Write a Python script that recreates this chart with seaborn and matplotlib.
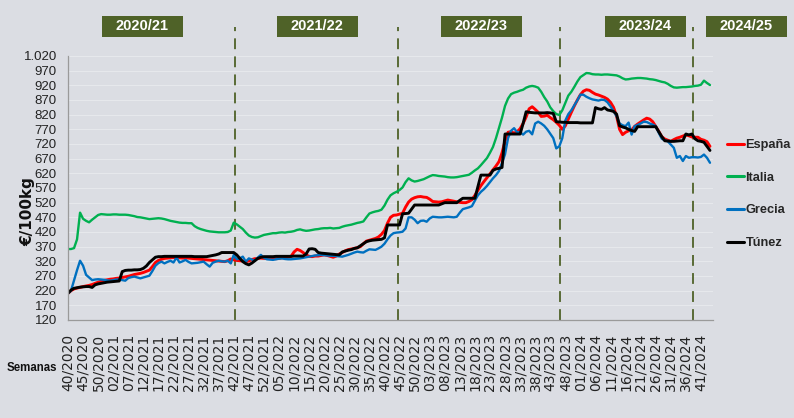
import numpy as np
import pandas as pd
import matplotlib
matplotlib.use("Agg")
import matplotlib.pyplot as plt
from matplotlib import font_manager
from matplotlib.lines import Line2D
from matplotlib.patches import Rectangle
import seaborn as sns

# ---------------- data ----------------
countries = ["España", "Italia", "Grecia", "Túnez"]

espana = [
    211, 220, 226, 229, 231, 234, 236, 238, 241, 245,
    249, 252, 255, 257, 259, 260, 262, 263, 265, 267,
    269, 272, 275, 277, 279, 282, 286, 290, 302, 316,
    323, 327, 330, 331, 332, 333, 332, 332, 331, 332,
    331, 330, 329, 328, 327, 326, 325, 324, 323, 322,
    321, 320, 319, 322, 328, 325, 323, 322, 321, 319,
    321, 326, 329, 330, 331, 330, 330, 331, 330, 329,
    330, 332, 333, 334, 337, 352, 361, 357, 350, 342,
    337, 336, 338, 338, 340, 342, 340, 337, 334, 338,
    345, 350, 356, 360, 362, 364, 367, 370, 380, 389,
    392, 395, 398, 403, 412, 425, 450, 470, 477, 478,
    481, 484, 505, 522, 532, 537, 540, 541, 539, 538,
    532, 524, 523, 522, 523, 526, 529, 527, 525, 523,
    521, 520, 520, 524, 530, 545, 562, 578, 592, 605,
    618, 632, 645, 660, 690, 730, 760, 762, 757, 762,
    772, 790, 812, 840, 847, 838, 828, 814, 815, 818,
    810, 803, 794, 784, 770, 782, 805, 828, 850, 870,
    888, 900, 905, 903, 896, 890, 887, 883, 879, 873,
    862, 845, 815, 770, 752, 760, 765, 768, 780, 788,
    795, 802, 808, 805, 796, 780, 763, 745, 737, 733,
    729, 735, 740, 743, 747, 751, 748, 744, 743, 743,
    736, 733, 728, 712,
]

italia = [
    362, 362, 365, 395, 486, 465, 458, 453, 462, 470,
    478, 481, 480, 479, 479, 480, 480, 479, 479, 479,
    478, 476, 474, 471, 470, 468, 466, 464, 465, 466,
    467, 466, 464, 461, 458, 456, 454, 452, 451, 451,
    450, 450, 440, 434, 430, 427, 424, 422, 421, 420,
    419, 419, 419, 420, 425, 452, 446, 438, 430, 418,
    408, 403, 401, 402, 406, 410, 412, 414, 416, 416,
    418, 419, 418, 420, 421, 423, 427, 429, 426, 424,
    425, 427, 429, 430, 432, 433, 433, 434, 432, 433,
    434, 438, 441, 443, 445, 448, 451, 453, 456, 470,
    483, 487, 490, 492, 496, 510, 530, 545, 552, 557,
    563, 572, 590, 603, 596, 592, 594, 597, 600, 605,
    610, 614, 613, 611, 610, 609, 607, 606, 606, 607,
    609, 611, 613, 615, 622, 630, 637, 648, 660, 672,
    690, 710, 740, 775, 810, 850, 875, 890, 895, 898,
    902, 905, 912, 916, 918, 916, 912, 898, 880, 865,
    845, 832, 822, 819, 835, 860, 885, 898, 915, 933,
    948, 955, 962, 961, 958, 957, 957, 956, 957, 957,
    956, 955, 954, 950, 944, 940, 941, 943, 944, 945,
    945, 944, 943, 941, 940, 938, 935, 932, 930, 925,
    918, 913, 912, 913, 914, 914, 915, 916, 918, 919,
    922, 936, 928, 921,
]

grecia = [
    211, 220, 255, 290, 322, 305, 274, 265, 256, 258,
    259, 258, 257, 255, 254, 256, 258, 258, 256, 254,
    263, 266, 268, 265, 262, 265, 268, 271, 287, 305,
    314, 319, 313, 318, 322, 316, 333, 316, 320, 325,
    318, 313, 314, 315, 317, 319, 310, 302, 315, 319,
    322, 320, 319, 322, 313, 342, 327, 330, 336, 319,
    330, 326, 322, 333, 342, 332, 327, 326, 325, 327,
    329, 330, 328, 327, 327, 328, 329, 330, 332, 334,
    336, 338, 340, 341, 342, 341, 340, 339, 339, 338,
    337, 336, 339, 342, 346, 350, 353, 351, 350, 356,
    361, 360, 359, 364, 370, 380, 395, 408, 416, 418,
    419, 421, 432, 470, 470, 462, 450, 458, 459, 455,
    466, 472, 471, 470, 470, 471, 472, 471, 470, 472,
    486, 498, 501, 504, 508, 527, 545, 557, 566, 577,
    590, 603, 614, 628, 655, 685, 740, 765, 774, 760,
    760, 752, 762, 765, 753, 790, 796, 790, 782, 770,
    755, 740, 705, 712, 740, 800, 822, 835, 852, 869,
    888, 888, 881, 876, 872, 870, 868, 871, 870, 862,
    848, 832, 815, 790, 784, 781, 793, 752, 781, 785,
    790, 796, 795, 790, 786, 781, 758, 738, 733, 729,
    718, 707, 673, 679, 662, 679, 673, 675, 675, 674,
    676, 684, 673, 656,
]

tunez = [
    211, 222, 228, 230, 232, 233, 234, 234, 231, 240,
    243, 245, 247, 249, 250, 251, 252, 253, 285, 289,
    290, 290, 291, 291, 292, 296, 304, 316, 325, 334,
    336, 336, 337, 337, 337, 337, 337, 337, 337, 337,
    337, 337, 336, 336, 336, 336, 336, 338, 340, 342,
    345, 350, 350, 350, 350, 350, 342, 330, 319, 312,
    308, 314, 322, 330, 334, 336, 336, 336, 336, 337,
    337, 337, 337, 337, 337, 338, 338, 338, 338, 345,
    362, 363, 361, 350, 348, 347, 346, 345, 344, 343,
    342, 352, 355, 358, 360, 364, 366, 373, 380, 387,
    390, 392, 393, 394, 395, 400, 444, 444, 444, 444,
    444, 482, 483, 484, 498, 512, 512, 512, 512, 512,
    512, 512, 512, 512, 516, 520, 520, 520, 520, 520,
    528, 535, 535, 535, 535, 535, 575, 614, 614, 614,
    614, 630, 635, 637, 640, 754, 754, 754, 754, 754,
    754, 790, 830, 828, 827, 826, 826, 826, 826, 827,
    826, 824, 796, 795, 794, 794, 793, 793, 793, 793,
    792, 792, 792, 792, 792, 844, 840, 838, 844, 836,
    834, 831, 822, 782, 778, 775, 770, 766, 763, 779,
    779, 779, 779, 779, 779, 779, 762, 745, 731, 730,
    729, 729, 730, 731, 731, 754, 751, 754, 738, 731,
    729, 726, 712, 698,
]

tick_labels = [
    "40/2020", "45/2020", "50/2020", "02/2021", "07/2021", "12/2021", "17/2021",
    "22/2021", "27/2021", "32/2021", "37/2021", "42/2021", "47/2021", "52/2021",
    "05/2022", "10/2022", "15/2022", "20/2022", "25/2022", "30/2022", "35/2022",
    "40/2022", "45/2022", "50/2022", "03/2023", "08/2023", "13/2023", "18/2023",
    "23/2023", "28/2023", "33/2023", "38/2023", "43/2023", "48/2023", "01/2024",
    "06/2024", "11/2024", "16/2024", "21/2024", "26/2024", "31/2024", "36/2024",
    "41/2024",
]

seasons = ["2020/21", "2021/22", "2022/23", "2023/24", "2024/25"]
season_centers_px = [142.5, 317, 481, 645, 746]
season_breaks = [55.3, 109.6, 163.3, 207.3]

# ---------------- style ----------------
BG = "#dbdde3"
GRID = "#e6e8ec"
OLIVE = "#4f6228"
colors = {"España": "#ff0000", "Italia": "#00b050", "Grecia": "#0070c0", "Túnez": "#000000"}
widths = {"España": 2.1, "Italia": 1.7, "Grecia": 1.7, "Túnez": 2.1}

sns.set_style("white", {"axes.facecolor": BG, "figure.facecolor": BG})
plt.rcParams["font.family"] = ["DejaVu Sans"]

names = {f.name for f in font_manager.fontManager.ttflist}
NARROW = "Liberation Sans Narrow" if "Liberation Sans Narrow" in names else "Liberation Sans"
scale = 1.2 if NARROW == "Liberation Sans Narrow" else 1.0

W, H = 794, 418
fig = plt.figure(figsize=(W / 100, H / 100), dpi=100, facecolor=BG)
ax = fig.add_axes([68 / W, 1 - 320 / H, 645 / W, 264 / H])
ax.set_facecolor(BG)

series = {"España": espana, "Italia": italia, "Grecia": grecia, "Túnez": tunez}
frames = []
for name in countries:
    vals = series[name]
    frames.append(pd.DataFrame({"semana": np.arange(len(vals)), "precio": vals, "pais": name}))
df = pd.concat(frames, ignore_index=True)

for name in countries:
    sub = df[df["pais"] == name]
    sns.lineplot(data=sub, x="semana", y="precio", color=colors[name],
                 linewidth=widths[name], ax=ax, legend=False, estimator=None, sort=False)

n = len(espana)
ax.set_xlim(0, 213.6)
ax.set_ylim(120, 1020)
yt = np.arange(120, 1021, 50)
ax.set_yticks(yt)
ax.set_yticklabels([f"{v:,}".replace(",", ".") for v in yt], family=NARROW,
                   fontsize=9.5 * scale)
ax.tick_params(axis="y", length=0, pad=8, colors="#222222")
for v in yt[1:]:
    ax.axhline(v, color=GRID, linewidth=0.8, zorder=0)

ax.set_xticks(np.arange(0, 5 * len(tick_labels), 5))
ax.set_xticklabels(tick_labels, rotation=90, fontsize=10, color="#222222")
ax.set_xticks(np.arange(0, n + 1), minor=True)
ax.tick_params(axis="x", which="both", length=4, color="#9a9a9a", width=0.8, pad=6)
ax.set_xlabel("")
ax.set_ylabel("")

for s in ["top", "right"]:
    ax.spines[s].set_visible(False)
for s in ["left", "bottom"]:
    ax.spines[s].set_color("#9a9a9a")
    ax.spines[s].set_linewidth(0.9)

# season breaks
for xb in season_breaks:
    ax.axvline(xb, ymin=0, ymax=(320 - 27) / 264, color=OLIVE, linewidth=1.3,
               linestyle=(0, (6, 4)), clip_on=False, zorder=1)

# season boxes
for lab, cx in zip(seasons, season_centers_px):
    bw, bh = 81, 21
    rect = Rectangle(((cx - bw / 2) / W, 1 - 37 / H), bw / W, bh / H,
                     transform=fig.transFigure, facecolor=OLIVE, edgecolor="none")
    fig.patches.append(rect)
    fig.text(cx / W, 1 - 26.5 / H, lab, ha="center", va="center", color="white",
             fontsize=10.5 * scale, fontweight="bold", family=NARROW)

# axis texts
fig.text(28 / W, 1 - 212 / H, "€/100kg", rotation=90, ha="center", va="center",
         fontsize=11, fontweight="bold", color="#111111")
fig.text(57 / W, 1 - 368 / H, "Semanas", ha="right", va="center", fontsize=8.3 * scale,
         fontweight="bold", family=NARROW, color="#111111")

# legend
handles = [Line2D([0], [0], color=colors[c], linewidth=2.2) for c in countries]
fig.legend(handles, countries, loc="upper left", bbox_to_anchor=(727 / W, 1 - 139 / H),
           frameon=False, handlelength=1.35, handletextpad=0.1, labelspacing=1.62,
           borderaxespad=0, borderpad=0,
           prop={"family": NARROW, "weight": "bold", "size": 9.2 * scale})

fig.savefig("out.png", dpi=100, facecolor=BG)
